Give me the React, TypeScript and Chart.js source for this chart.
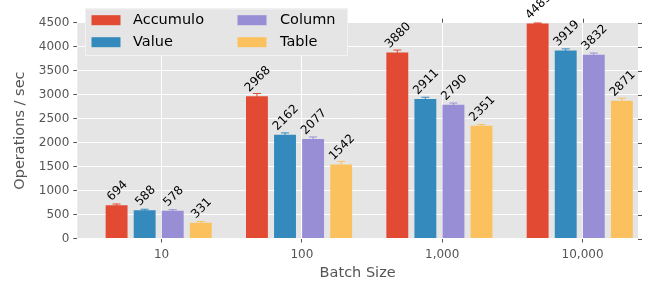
import React, { useEffect, useRef } from 'react';
import { Chart, registerables } from 'chart.js';

Chart.register(...registerables);

const batchSizes = ['10', '100', '1,000', '10,000'];
const groupPositions = [0, 1, 2, 3];
const seriesNames = ['Accumulo', 'Value', 'Column', 'Table'];
const seriesColors = ['#E24A33', '#348ABD', '#988ED5', '#FBC15E'];
const accumuloOps = [694, 2968, 3880, 4485];
const valueOps = [588, 2162, 2911, 3919];
const columnOps = [578, 2077, 2790, 3832];
const tableOps = [331, 1542, 2351, 2871];
const accumuloErr = [25, 55, 50, 10];
const valueErr = [22, 40, 35, 35];
const columnErr = [22, 40, 35, 35];
const tableErr = [25, 65, 27, 55];

const FONT = '"DejaVu Sans", sans-serif';

const bgPlugin = {
  id: 'bg',
  beforeDraw(chart: any) {
    const { ctx, chartArea } = chart;
    ctx.save();
    ctx.fillStyle = '#E5E5E5';
    ctx.fillRect(chartArea.left, chartArea.top, chartArea.right - chartArea.left, chartArea.bottom - chartArea.top);
    ctx.restore();
  },
};

const errLabelPlugin = {
  id: 'errLabel',
  afterDatasetsDraw(chart: any) {
    const { ctx } = chart;
    const y = chart.scales.y;
    chart.data.datasets.forEach((ds: any, di: number) => {
      const meta = chart.getDatasetMeta(di);
      meta.data.forEach((el: any, i: number) => {
        const v = ds.data[i].y;
        const e = ds.errors[i];
        const yt = y.getPixelForValue(v + e);
        const yb = y.getPixelForValue(v - e);
        ctx.save();
        ctx.strokeStyle = ds.backgroundColor;
        ctx.lineWidth = 1;
        ctx.beginPath();
        ctx.moveTo(el.x, yt);
        ctx.lineTo(el.x, yb);
        ctx.moveTo(el.x - 4, yt);
        ctx.lineTo(el.x + 4, yt);
        ctx.moveTo(el.x - 4, yb);
        ctx.lineTo(el.x + 4, yb);
        ctx.stroke();
        const txt = String(v);
        ctx.font = `12px ${FONT}`;
        ctx.fillStyle = '#000';
        const w = ctx.measureText(txt).width;
        const capH = 12 * 0.73;
        const half = (w + capH) * 0.7071 / 2;
        const cx = el.x;
        const cy = el.y - 4 - half;
        ctx.translate(cx, cy);
        ctx.rotate(-Math.PI / 4);
        ctx.textAlign = 'center';
        ctx.textBaseline = 'alphabetic';
        ctx.fillText(txt, 0, capH / 2);
        ctx.restore();
      });
    });
  },
};

const extraTicksPlugin = {
  id: 'extraTicks',
  afterDraw(chart: any) {
    const { ctx, chartArea } = chart;
    const xs = chart.scales.x;
    const ys = chart.scales.y;
    ctx.save();
    ctx.strokeStyle = '#555555';
    ctx.lineWidth = 1;
    ctx.beginPath();
    xs.ticks.forEach((t: any) => {
      const px = Math.round(xs.getPixelForValue(t.value)) + 0.5;
      ctx.moveTo(px, chartArea.top - 4);
      ctx.lineTo(px, chartArea.top);
    });
    ys.ticks.forEach((t: any) => {
      const py = Math.round(ys.getPixelForValue(t.value)) + 0.5;
      ctx.moveTo(chartArea.right, py);
      ctx.lineTo(chartArea.right + 4, py);
    });
    ctx.stroke();
    ctx.restore();
  },
};

const legendPlugin = {
  id: 'customLegend',
  afterDraw(chart: any) {
    const { ctx } = chart;
    const bx = 85, by = 8.5, bw = 263, bh = 47.5;
    ctx.save();
    ctx.fillStyle = '#E5E5E5';
    ctx.fillRect(bx, by, bw, bh);
    ctx.strokeStyle = '#F2F2F2';
    ctx.lineWidth = 1;
    ctx.strokeRect(bx + 0.5, by + 0.5, bw - 1, bh - 1);
    const colX = [91.5, 237.5];
    const textX = [133, 280];
    const rowY = [20.2, 42.2];
    ctx.font = `14.5px ${FONT}`;
    ctx.textBaseline = 'middle';
    ctx.textAlign = 'left';
    chart.data.datasets.forEach((ds: any, i: number) => {
      const c = Math.floor(i / 2);
      const r = i % 2;
      ctx.fillStyle = ds.backgroundColor;
      ctx.fillRect(colX[c], rowY[r] - 5, 29, 10);
      ctx.fillStyle = '#000';
      ctx.fillText(ds.label, textX[c], rowY[r]);
    });
    ctx.restore();
  },
};

export default function App() {
  const ref = useRef<HTMLCanvasElement>(null);
  useEffect(() => {
    document.body.style.margin = '0';
    const series = [accumuloOps, valueOps, columnOps, tableOps];
    const errs = [accumuloErr, valueErr, columnErr, tableErr];
    const chart = new Chart(ref.current as HTMLCanvasElement, {
      type: 'bar',
      data: {
        datasets: series.map((vals, si) => ({
          label: seriesNames[si],
          data: vals.map((v, i) => ({ x: groupPositions[i], y: v })),
          errors: errs[si],
          backgroundColor: seriesColors[si],
          borderWidth: 0,
          categoryPercentage: 0.8,
          barPercentage: 0.78,
        })) as any,
      },
      options: {
        animation: false,
        responsive: true,
        maintainAspectRatio: false,
        events: [],
        layout: { padding: { top: 22.7, right: 12, left: 0, bottom: 0 } },
        plugins: {
          legend: { display: false },
          tooltip: { enabled: false },
        },
        scales: {
          x: {
            type: 'linear',
            offset: false,
            min: -0.58,
            max: 3.415,
            afterBuildTicks: (scale: any) => {
              scale.ticks = groupPositions.map((p) => ({ value: p + 0.02 }));
            },
            afterFit: (scale: any) => {
              scale.height = 283 - 238.5;
            },
            ticks: {
              autoSkip: false,
              maxRotation: 0,
              padding: 5,
              color: '#555555',
              font: { family: FONT, size: 12 },
              callback: (_v: any, idx: number) => batchSizes[idx],
            },
            grid: { offset: false, color: '#FFFFFF', lineWidth: 1, tickColor: '#555555', tickLength: 4, tickWidth: 1 },
            border: { display: false },
            title: {
              display: true,
              text: 'Batch Size',
              color: '#555555',
              font: { family: FONT, size: 14.5 },
              padding: { top: 0, bottom: 1 },
            },
          },
          y: {
            min: 0,
            max: 4500,
            afterFit: (scale: any) => {
              scale.width = 77.3;
            },
            ticks: {
              stepSize: 500,
              padding: 4,
              color: '#555555',
              font: { family: FONT, size: 12 },
              callback: (v: any) => String(v),
            },
            grid: { color: '#FFFFFF', lineWidth: 1, tickColor: '#555555', tickLength: 4, tickWidth: 1 },
            border: { display: false },
            title: {
              display: true,
              text: 'Operations / sec',
              color: '#555555',
              font: { family: FONT, size: 14.5 },
              padding: { top: 12, bottom: 0 },
            },
          },
        },
      },
      plugins: [bgPlugin, errLabelPlugin, extraTicksPlugin, legendPlugin],
    });
    return () => chart.destroy();
  }, []);
  return (
    <div style={{ position: 'absolute', left: 0, top: 0, width: 650, height: 283 }}>
      <canvas ref={ref} />
    </div>
  );
}
